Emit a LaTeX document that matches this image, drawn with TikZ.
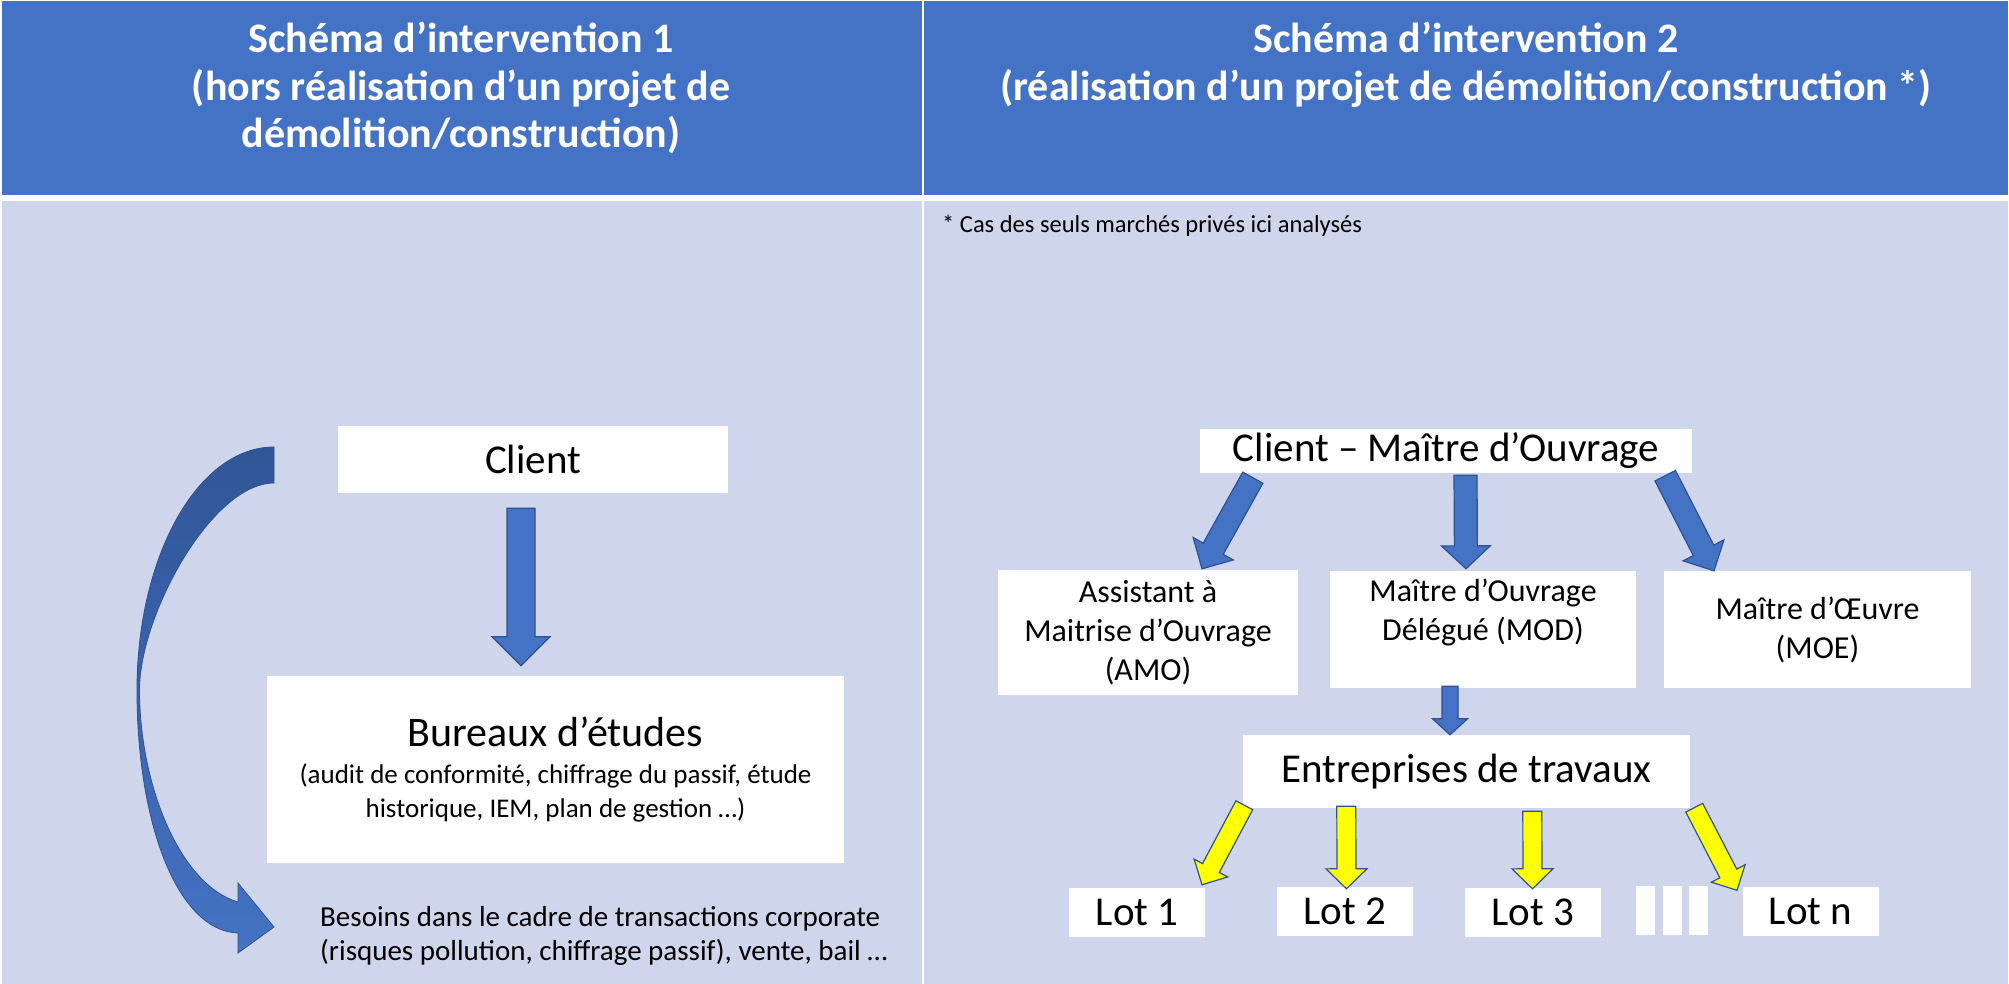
\documentclass[tikz,border=0pt]{standalone}
\usepackage{fontspec}
\setmainfont{Carlito}
\usetikzlibrary{calc,positioning}
\definecolor{entete}{RGB}{68,114,196}
\definecolor{corps}{RGB}{207,213,234}
\definecolor{bleu}{RGB}{68,114,196}
\definecolor{bleufonce}{RGB}{47,82,143}
\definecolor{ombre}{RGB}{49,86,152}
\definecolor{jaune}{RGB}{255,255,0}

% flèche pleine : #1 style, #2 départ, #3 pointe, #4 demi-tige, #5 demi-tête, #6 longueur tête
\newcommand{\fleche}[6]{%
    \coordinate (fa) at (#2);
    \coordinate (fz) at (#3);
    \coordinate (fb) at ($(fz)!#6!(fa)$);
    \draw[#1] ($(fa)!#4!90:(fz)$) -- ($(fb)!#4!90:(fz)$) -- ($(fb)!#5!90:(fz)$) -- (fz)
        -- ($(fb)!#5!-90:(fz)$) -- ($(fb)!#4!-90:(fz)$) -- ($(fa)!#4!-90:(fz)$) -- cycle;
}

\begin{document}
\begin{tikzpicture}[x=1pt, y=-1pt,
    boite/.style={fill=white, inner sep=0pt, align=center},
    grand/.style={font=\fontsize{41}{49}\selectfont},
    moyen/.style={font=\fontsize{32}{39}\selectfont},
    petit/.style={font=\fontsize{27}{34}\selectfont},
    lot/.style={boite, grand, minimum width=136pt, minimum height=49pt},
    titre/.style={text=white, font=\bfseries\fontsize{42}{47.5}\selectfont, align=center, anchor=north, inner sep=0pt},
    flechebleue/.style={fill=bleu, draw=bleufonce, line width=1.2pt},
    flechejaune/.style={fill=jaune, draw=bleufonce, line width=1.2pt}]

    \useasboundingbox (0,0) rectangle (2009,984);

    % ═══════════════════════════════════════════════════════════════════════════
    % TABLEAU
    % ═══════════════════════════════════════════════════════════════════════════

    \fill[white] (0,0) rectangle (2009,984);
    \fill[entete] (1.5,1.5) rectangle (922,195.5);
    \fill[entete] (924,1.5) rectangle (2007.5,195.5);
    \fill[corps] (1.5,201.5) rectangle (922,984);
    \fill[corps] (924,201.5) rectangle (2007.5,984);

    \node[titre] (titre1) at (461,22) {Schéma d’intervention 1\\(hors réalisation d’un projet de\\démolition/construction)};
    \node[titre] (titre2) at (1466,22) {Schéma d’intervention 2\\(réalisation d’un projet de démolition/construction *)};

    % ═══════════════════════════════════════════════════════════════════════════
    % SCHÉMA 1
    % ═══════════════════════════════════════════════════════════════════════════

    \node[boite, grand, minimum width=390pt, minimum height=67pt] (client) at (533,459.5) {Client};
    \node[boite, petit, minimum width=577pt, minimum height=187pt] (bureau) at (555.5,769.5)
        {{\fontsize{42}{50}\selectfont Bureaux d’études}\\[3pt]
         (audit de conformité, chiffrage du passif, étude\\historique, IEM, plan de gestion …)};
    \node[anchor=north west, inner sep=0pt, align=left, font=\fontsize{29}{34}\selectfont] (besoins) at (320,906)
        {Besoins dans le cadre de transactions corporate\\(risques pollution, chiffrage passif), vente, bail …};

    \fleche{flechebleue}{$(client.south)+(-12,15)$}{$(bureau.north)+(-34.5,-10)$}{14pt}{29pt}{29pt}

    % flèche courbe vers les besoins
    \shade[top color=ombre, bottom color=bleu, draw=bleufonce, line width=0.8pt]
        (274,447) .. controls (198,447) and (137,556) .. (137,690)
        .. controls (137,825) and (178,931) .. (238,933)
        -- (238,953) -- (274,927) -- (238,883) -- (238,902)
        .. controls (180,885) and (139.5,785) .. (139.5,690)
        .. controls (139.5,615) and (212,483) .. (274,483) -- cycle;

    % ═══════════════════════════════════════════════════════════════════════════
    % SCHÉMA 2
    % ═══════════════════════════════════════════════════════════════════════════

    \node[anchor=base west, inner sep=0pt, font=\fontsize{24.5}{30}\selectfont] (note) at (942,233)
        {* Cas des seuls marchés privés ici analysés};

    \node[boite, grand, minimum width=492pt, minimum height=44pt] (cmo) at (1446,451) {Client – Maître d’Ouvrage};
    \node[boite, moyen, minimum width=300pt, minimum height=125pt] (amo) at (1148,632.5) {Assistant à\\Maitrise d’Ouvrage\\(AMO)};
    \node[boite, moyen, minimum width=306pt, minimum height=117pt] (mod) at (1483,629.5) {Maître d’Ouvrage\\Délégué (MOD)\\\mbox{}};
    \node[boite, moyen, minimum width=307pt, minimum height=117pt] (moe) at (1817.5,629.5) {Maître d’Œuvre\\(MOE)};
    \node[boite, grand, minimum width=447pt, minimum height=73pt] (travaux) at (1466.5,771.5) {Entreprises de travaux};

    \node[lot] (lot1) at (1137.3,912.5) {Lot 1};
    \node[lot] (lot2) at (1345,911.5) {Lot 2};
    \node[lot] (lot3) at (1533,912.5) {Lot 3};
    \node[lot] (lotn) at (1810.5,911) {Lot n};
    \foreach \x in {1636,1662.5,1689}
        \fill[white] (\x,886) rectangle ++(19,49);

    \fleche{flechebleue}{$(cmo.south west)+(53,4.5)$}{$(amo.north)+(54,-1)$}{11.5pt}{23pt}{23pt}
    \fleche{flechebleue}{$(cmo.south)+(19.5,2)$}{$(mod.north)+(-17,-2)$}{11.5pt}{24.5pt}{23pt}
    \fleche{flechebleue}{$(cmo.south east)+(-27,2.5)$}{$(moe.north)+(-103.5,0)$}{11.5pt}{23pt}{23pt}
    \fleche{flechebleue}{$(mod.south)+(-33,-2)$}{$(travaux.north)+(-16.5,0)$}{8pt}{17.5pt}{16pt}

    \fleche{flechejaune}{$(travaux.south west)+(1.5,-3)$}{$(lot1.north)+(64.7,-3)$}{9.5pt}{19pt}{19pt}
    \fleche{flechejaune}{$(travaux.south west)+(103.5,-2)$}{$(lot2.north)+(1.5,2)$}{9.5pt}{20.5pt}{20pt}
    \fleche{flechejaune}{$(travaux.south west)+(289.5,3)$}{$(lot3.north)+(-0.5,1)$}{9.5pt}{20.5pt}{20pt}
    \fleche{flechejaune}{$(travaux.south east)+(4,-0.5)$}{$(lotn.north)+(-73.5,4)$}{9.5pt}{19pt}{19pt}

\end{tikzpicture}
\end{document}
